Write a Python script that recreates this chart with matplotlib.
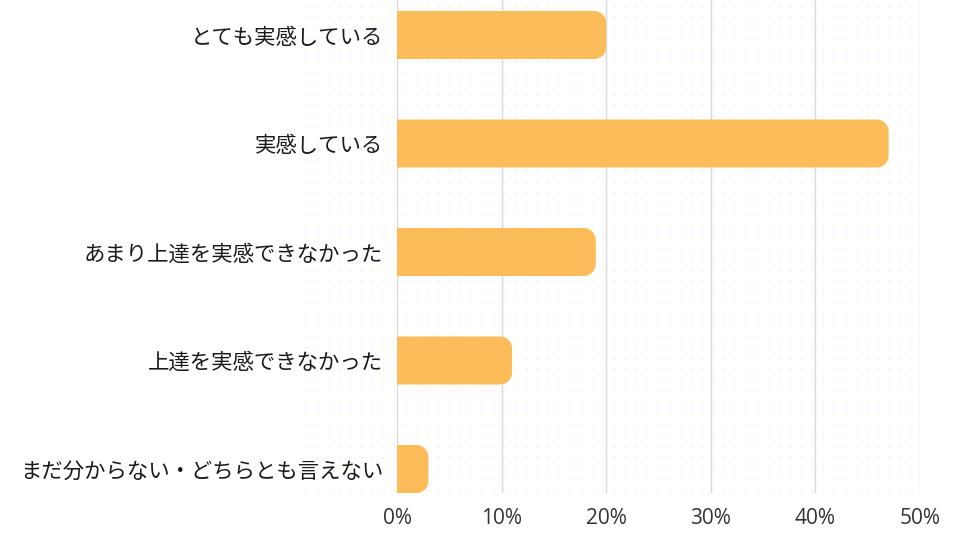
import matplotlib
matplotlib.use('Agg')
import matplotlib.pyplot as plt
import numpy as np
from matplotlib.patches import Polygon

plt.rcParams['font.family'] = ['Noto Sans CJK JP', 'DejaVu Sans']

# データ
categories = ['とても実感している', '実感している', 'あまり上達を実感できなかった',
              '上達を実感できなかった', 'まだ分からない・どちらとも言えない']
values = [20, 47, 19, 11, 3]
xticks = [0, 10, 20, 30, 40, 50]
xtick_labels = ['0%', '10%', '20%', '30%', '40%', '50%']

bar_color = '#FDBC5A'
W, H = 960, 540

fig = plt.figure(figsize=(9.6, 5.4), dpi=100)

# 背景のドット模様
bg = fig.add_axes([0, 0, 1, 1], zorder=0)
bg.set_xlim(0, W)
bg.set_ylim(H, 0)
bg.axis('off')
gx, gy = np.meshgrid(np.arange(306, 922, 11), np.arange(6, 500, 11))
bg.scatter(gx.ravel(), gy.ravel(), s=4, color='#FEF5E8', linewidths=0)

# メインの軸
left, right, bottom_px = 397, 920, 493
row_px = 108.5
ax = fig.add_axes([left / W, (H - bottom_px) / H, (right - left) / W, bottom_px / H], zorder=1)
ax.patch.set_alpha(0)

bar_h = 48 / row_px
y = np.arange(len(categories))
ax.set_xlim(0, 50)
ybot = len(categories) - 1 + bar_h / 2
ax.set_ylim(ybot, ybot - bottom_px / row_px)

bars = ax.barh(y, values, height=bar_h, color='none')

# 右端を丸めたバー（楕円弧で角を作る）
px_x = 50 / (right - left)
px_y = 1 / row_px
r_px = 12
t = np.linspace(0, np.pi / 2, 20)
for b in bars:
    x0, y0 = b.get_x(), b.get_y()
    w, h = b.get_width(), b.get_height()
    rx = min(r_px * px_x, w / 2)
    ry = min(r_px * px_y, h / 2)
    x1, y1 = x0 + w, y0 + h
    c1 = np.column_stack([x1 - rx + rx * np.sin(t), y0 + ry - ry * np.cos(t)])
    c2 = np.column_stack([x1 - rx + rx * np.cos(t), y1 - ry + ry * np.sin(t)])
    pts = np.vstack([[x0, y0], c1, c2, [x0, y1]])
    ax.add_patch(Polygon(pts, closed=True, facecolor=bar_color, edgecolor='none', zorder=3))

ax.set_xticks(xticks)
ax.set_xticklabels(xtick_labels, fontsize=15, family=['Open Sans', 'DejaVu Sans'], color='#333333')
ax.set_yticks(y)
ax.set_yticklabels(categories, fontsize=15.4, color='#1a1a1a')
ax.tick_params(axis='both', length=0)
ax.tick_params(axis='x', pad=11)
ax.tick_params(axis='y', pad=10)
ax.grid(axis='x', color='#D9D9D9', linewidth=1, zorder=0)
ax.set_axisbelow(True)
for s in ax.spines.values():
    s.set_visible(False)

fig.savefig('out.png', dpi=100)
